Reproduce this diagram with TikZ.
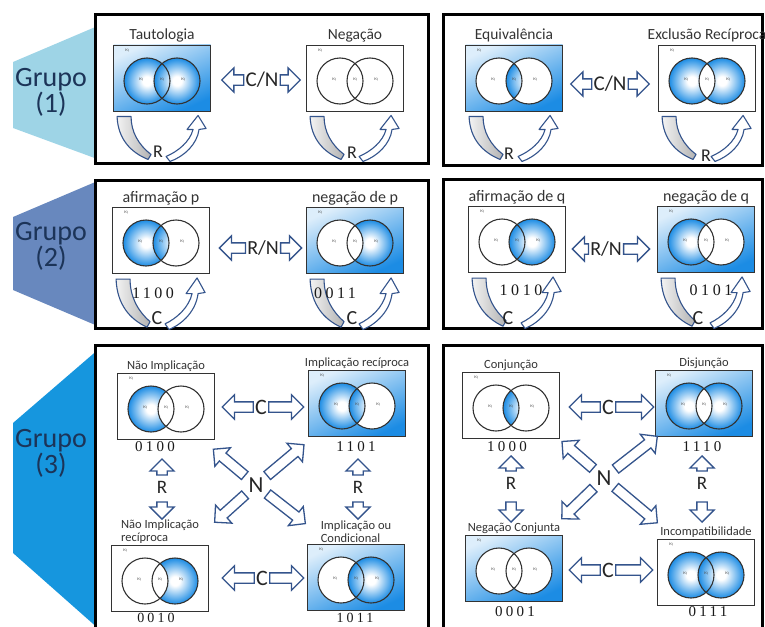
\documentclass[tikz,border=0pt]{standalone}
\usepackage{fontspec}
\setmainfont{Carlito}
\newfontfamily\digitfont[LetterSpace=22]{Liberation Serif}
\usetikzlibrary{shapes.arrows,positioning,calc}

\definecolor{arrowblue}{RGB}{52,84,140}
\definecolor{vennblue}{RGB}{28,140,228}
\definecolor{grpone}{RGB}{158,212,230}
\definecolor{grptwo}{RGB}{104,136,190}
\definecolor{grpthree}{RGB}{22,150,222}
\definecolor{grpink}{RGB}{28,52,88}

\pgfdeclareradialshading{vball}{\pgfpoint{0bp}{0bp}}{color(0bp)=(white); color(5bp)=(white); color(25bp)=(vennblue); color(50bp)=(vennblue)}

\tikzset{
  frame/.style={draw=black, line width=3pt, fill=white},
  vennbox/.style={draw=black!80, line width=0.9pt, minimum width=97pt, minimum height=66pt, inner sep=0pt},
  ring/.style={draw=black!80, line width=1.1pt},
  boxshade/.style={top color=vennblue!15, bottom color=vennblue, shading angle=25},
  pq/.style={font=\fontsize{3.5}{3.5}\selectfont, inner sep=0pt, text=black!70},
  titl/.style={font=\fontsize{15.5}{16}\selectfont, text=black!80, inner sep=1pt},
  titlb/.style={font=\fontsize{16}{16}\selectfont, text=black!80, inner sep=1pt},
  titls/.style={font=\fontsize{12.5}{13}\selectfont, text=black!80, inner sep=1pt},
  lett/.style={font=\fontsize{#1}{#1}\selectfont, text=black!85, inner sep=0pt},
  lett/.default=18,
  bits/.style={font=\digitfont\fontsize{#1}{#1}\selectfont, text=black!90, inner sep=0pt},
  bits/.default=15,
  grp/.style={font=\fontsize{28}{26}\selectfont, text=grpink, align=center, inner sep=0pt},
  hol/.style={single arrow, draw=arrowblue, fill=white, line width=1.3pt, inner xsep=0pt,
    inner ysep=4.5pt, single arrow head extend=7pt, minimum height=#1},
  band/.style={draw=arrowblue, line width=1.1pt, left color=gray!10, right color=gray!60, line join=round},
  hollow/.style={draw=arrowblue, line width=1.1pt, fill=white, line join=round},
  rcurve/.pic={
    \path[band] (4,5) -- (18,5) .. controls (18,20) and (25,33) .. (38,43) -- (35,48)
      .. controls (18,41) and (5,28) .. (4,5) -- cycle;
    \path[hollow] (53,45) .. controls (65,40) and (77,30) .. (80,18) -- (74,18) -- (85,4)
      -- (93,17) -- (86,18) .. controls (84,33) and (71,45) .. (57,50) -- cycle;
  },
}

% name, centre, regions pq / p only / q only / outside
\newcommand{\venn}[6]{%
  \begin{scope}[shift={#2}]
    \ifnum#6=1 \shade[boxshade] (-48.5,-33) rectangle (48.5,33);\fi
    \ifnum#4=1 \shade[shading=vball] (-15,3) circle (23);\else\fill[white] (-15,3) circle (23);\fi
    \ifnum#5=1 \shade[shading=vball] (15,3) circle (23);\else\fill[white] (15,3) circle (23);\fi
    \begin{scope}
      \clip (-15,3) circle (23);
      \ifnum#3=1 \shade[shading=vball] (15,3) circle (23);\else\fill[white] (15,3) circle (23);\fi
    \end{scope}
    \node[vennbox] (#1) at (0,0) {};
    \draw[ring] (-15,3) circle (23) (15,3) circle (23);
    \node[pq] (#1-o) at (-35,-27) {PQ};
    \node[pq] (#1-p) at (-21,2) {PQ};
    \node[pq] (#1-m) at (0,2) {PQ};
    \node[pq] (#1-q) at (21,2) {PQ};
  \end{scope}}

\begin{document}
\begin{tikzpicture}[x=1pt, y=-1pt]
\useasboundingbox (0,0) rectangle (765,626);
\clip (0,0) rectangle (765,626);

% Group labels
\fill[grpone] (100,25) -- (13,62) -- (13,128) -- (100,160) -- cycle;
\fill[grptwo] (100,180) -- (13,217) -- (13,290) -- (100,327) -- cycle;
\fill[grpthree] (100,348) -- (13,423) -- (13,553) -- (100,630) -- cycle;
\node[grp] (g1) at (51,92) {Grupo\\(1)};
\node[grp] (g2) at (51,246) {Grupo\\(2)};
\node[grp] (g3) at (51,453) {Grupo\\(3)};

% Frames
\draw[frame] (95,15) rectangle (428,163);
\draw[frame] (443,15) rectangle (762,165);
\draw[frame] (95,180) rectangle (428,328);
\draw[frame] (443,179) rectangle (762,328);
\draw[frame] (95,345) rectangle (428,640);
\draw[frame] (443,345) rectangle (762,640);

% Group 1, left
\venn{taut}{(162,78)}{1}{1}{1}{1}
\node[titl, above=1pt of taut] (taut-t) {Tautologia};
\pic at (taut.south west) {rcurve};
\node[lett] (taut-r) at ($(taut.south west)+(45,40)$) {R};
\venn{neg}{(355,78)}{0}{0}{0}{0}
\node[titl, above=1pt of neg] (neg-t) {Negação};
\pic at (neg.south west) {rcurve};
\node[lett] (neg-r) at ($(neg.south west)+(46,41)$) {R};
\node[lett=21] (cn1) at (262,80) {C/N};
\node[hol=22pt, rotate=180, anchor=tail] (cn1-l) at ($(cn1.west)+(-1,0)$) {};
\node[hol=20pt, anchor=tail] (cn1-r) at ($(cn1.east)+(1,0)$) {};

% Group 1, right
\venn{equi}{(514,78)}{1}{0}{0}{1}
\node[titl, above=1pt of equi] (equi-t) {Equivalência};
\pic at (equi.south west) {rcurve};
\node[lett] (equi-r) at ($(equi.south west)+(44,42)$) {R};
\venn{excl}{(707,78)}{0}{1}{1}{0}
\node[titl, above=1pt of excl] (excl-t) {Exclusão Recíproca};
\pic at (excl.south west) {rcurve};
\node[lett] (excl-r) at ($(excl.south west)+(48,44)$) {R};
\node[lett=21] (cn2) at (610,84) {C/N};
\node[hol=21pt, rotate=180, anchor=tail] (cn2-l) at ($(cn2.west)+(-1,0)$) {};
\node[hol=21pt, anchor=tail] (cn2-r) at ($(cn2.east)+(1,0)$) {};

% Group 2, left
\venn{afp}{(161,240)}{1}{1}{0}{0}
\node[titlb, above=0pt of afp] (afp-t) {afirmação p};
\pic[yscale=1.12] at (afp.south west) {rcurve};
\node[lett=20] (afp-c) at ($(afp.south west)+(45,45)$) {C};
\node[bits=16] (afp-b) at (153,293) {1100};
\venn{ngp}{(355,240)}{0}{0}{1}{1}
\node[titlb, above=0pt of ngp] (ngp-t) {negação de p};
\pic[yscale=1.12] at (ngp.south west) {rcurve};
\node[lett=20] (ngp-c) at ($(ngp.south west)+(46,45)$) {C};
\node[bits=16] (ngp-b) at (335,293) {0011};
\node[lett=20] (rn3) at (263,248) {R/N};
\node[hol=26pt, rotate=180, anchor=tail] (rn3-l) at ($(rn3.west)+(-1,0)$) {};
\node[hol=21pt, anchor=tail] (rn3-r) at ($(rn3.east)+(1,0)$) {};

% Group 2, right
\venn{afq}{(517,239)}{1}{0}{1}{0}
\node[titlb, above=0pt of afq] (afq-t) {afirmação de q};
\pic[yscale=1.12] at (afq.south west) {rcurve};
\node[lett=20] (afq-c) at ($(afq.south west)+(40,46)$) {C};
\node[bits=16] (afq-b) at (521,290) {1010};
\venn{ngq}{(706,239)}{0}{1}{0}{1}
\node[titlb, above=0pt of ngq] (ngq-t) {negação de q};
\pic[yscale=1.12] at (ngq.south west) {rcurve};
\node[lett=20] (ngq-c) at ($(ngq.south west)+(41,46)$) {C};
\node[bits=16] (ngq-b) at (711,290) {0101};
\node[lett=20] (rn4) at (606,249) {R/N};
\node[hol=16pt, rotate=180, anchor=tail] (rn4-l) at ($(rn4.west)+(-1,0)$) {};
\node[hol=26pt, anchor=tail] (rn4-r) at ($(rn4.east)+(1,0)$) {};

% Group 3, left
\venn{nimp}{(166,406)}{0}{1}{0}{0}
\node[titls, above=0pt of nimp] (nimp-t) {Não Implicação};
\node[bits] (nimp-b) at (155,447) {0100};
\venn{impr}{(357,403)}{1}{1}{0}{1}
\node[titls, above=0pt of impr] (impr-t) {Implicação recíproca};
\node[bits] (impr-b) at (356,447) {1101};
\venn{nimpr}{(160,578)}{0}{0}{1}{0}
\node[titls, align=left, above=0pt of nimpr] (nimpr-t) {Não Implicação\\recíproca};
\node[bits=14] (nimpr-b) at (156,618) {0010};
\venn{imp}{(356,577)}{1}{0}{1}{1}
\node[titls, align=left, above=0pt of imp] (imp-t) {Implicação ou\\Condicional};
\node[bits=14] (imp-b) at (355,618) {1011};
\node[lett=22] (c5a) at (261,407) {C};
\node[hol=31pt, rotate=180, anchor=tail] (c5a-l) at ($(c5a.west)+(-1,0)$) {};
\node[hol=35pt, anchor=tail] (c5a-r) at ($(c5a.east)+(1,0)$) {};
\node[lett=22] (c5b) at (262,578) {C};
\node[hol=32pt, rotate=180, anchor=tail] (c5b-l) at ($(c5b.west)+(-1,0)$) {};
\node[hol=34pt, anchor=tail] (c5b-r) at ($(c5b.east)+(1,0)$) {};
\node[lett=23] (n5) at (256,485) {N};
\foreach \a/\l in {140/41pt,40/48pt,222/41pt,322/48pt}
  \node[hol=\l, rotate=\a, anchor=tail] (n5-\a) at ($(n5)+(\a:14pt)$) {};
\node[lett=19] (r5a) at (162,487) {R};
\node[hol=16pt, rotate=90, anchor=tip] (r5a-u) at ($(r5a)+(0,-29)$) {};
\node[hol=17pt, rotate=-90, anchor=tip] (r5a-d) at ($(r5a)+(0,33)$) {};
\node[lett=19] (r5b) at (358,487) {R};
\node[hol=16pt, rotate=90, anchor=tip] (r5b-u) at ($(r5b)+(0,-29)$) {};
\node[hol=17pt, rotate=-90, anchor=tip] (r5b-d) at ($(r5b)+(0,33)$) {};

% Group 3, right
\venn{conj}{(511,405)}{1}{0}{0}{0}
\node[titls, above=0pt of conj] (conj-t) {Conjunção};
\node[bits] (conj-b) at (507,447) {1000};
\venn{disj}{(704,403)}{0}{1}{1}{1}
\node[titls, above=0pt of disj] (disj-t) {Disjunção};
\node[bits] (disj-b) at (702,447) {1110};
\venn{nconj}{(514,568)}{0}{0}{0}{1}
\node[titls, above=0pt of nconj] (nconj-t) {Negação Conjunta};
\node[bits] (nconj-b) at (515,612) {0001};
\venn{incomp}{(706,572)}{1}{1}{1}{0}
\node[titls, above=0pt of incomp] (incomp-t) {Incompatibilidade};
\node[bits] (incomp-b) at (708,612) {0111};
\node[lett=22] (c6a) at (608,407) {C};
\node[hol=31pt, rotate=180, anchor=tail] (c6a-l) at ($(c6a.west)+(-1,0)$) {};
\node[hol=38pt, anchor=tail] (c6a-r) at ($(c6a.east)+(1,0)$) {};
\node[lett=22] (c6b) at (608,570) {C};
\node[hol=31pt, rotate=180, anchor=tail] (c6b-l) at ($(c6b.west)+(-1,0)$) {};
\node[hol=37pt, anchor=tail] (c6b-r) at ($(c6b.east)+(1,0)$) {};
\node[lett=23] (n6) at (604,478) {N};
\foreach \a/\l in {139/41pt,38/53pt,224/44pt,320/55pt}
  \node[hol=\l, rotate=\a, anchor=tail] (n6-\a) at ($(n6)+(\a:14pt)$) {};
\node[lett=19] (r6a) at (511,483) {R};
\node[hol=15pt, rotate=90, anchor=tip] (r6a-u) at ($(r6a)+(0,-28)$) {};
\node[hol=20pt, rotate=-90, anchor=tip] (r6a-d) at ($(r6a)+(0,40)$) {};
\node[lett=19] (r6b) at (702,483) {R};
\node[hol=15pt, rotate=90, anchor=tip] (r6b-u) at ($(r6b)+(0,-28)$) {};
\node[hol=20pt, rotate=-90, anchor=tip] (r6b-d) at ($(r6b)+(0,40)$) {};
\end{tikzpicture}
\end{document}
